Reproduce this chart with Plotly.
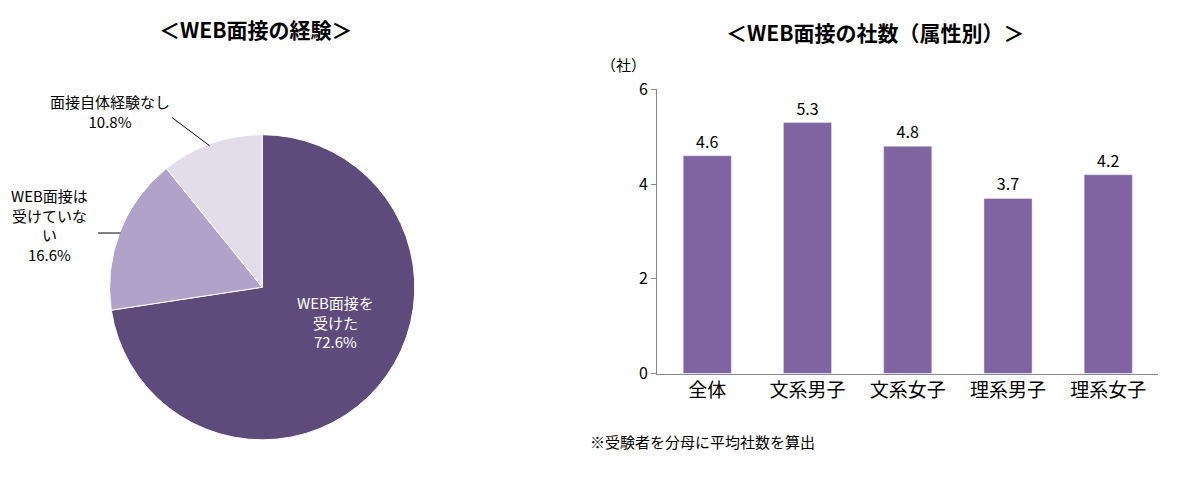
import plotly.graph_objects as go

pie_labels = ["WEB面接を受けた", "WEB面接は受けていない", "面接自体経験なし"]
pie_values = [72.6, 16.6, 10.8]
pie_colors = ["#5F4B7B", "#B0A2C8", "#E3DDEA"]

bar_cats = ["全体", "文系男子", "文系女子", "理系男子", "理系女子"]
bar_values = [4.6, 5.3, 4.8, 3.7, 4.2]
y_ticks = [0, 2, 4, 6]

FONT = "Noto Sans CJK JP"
W, H = 1177, 487
# compensate for observed render scaling/offset
def px(x): return ((x - 14) / 0.9875) / W
def py(y): return 1 - ((y - 21.8) / 0.947) / H

fig = go.Figure()
fig.add_trace(go.Pie(labels=pie_labels, values=pie_values, sort=False, direction="clockwise",
                     rotation=0, marker=dict(colors=pie_colors, line=dict(color="white", width=1)),
                     textinfo="none", hoverinfo="label+percent", showlegend=False,
                     domain=dict(x=[px(100), px(430)], y=[py(439), py(135)])))
fig.add_trace(go.Bar(x=bar_cats, y=bar_values, marker_color="#8064A2", width=0.48,
                     text=[f"{v:.1f}" for v in bar_values], textposition="outside",
                     textfont=dict(size=16, color="#000"), cliponaxis=False, showlegend=False))

fig.update_layout(
    width=W, height=H, margin=dict(l=0, r=0, t=0, b=0),
    paper_bgcolor="white", plot_bgcolor="white",
    font=dict(family=FONT, color="#000"),
    xaxis=dict(domain=[px(655), px(1150)], showline=True, linecolor="#888", ticks="",
               tickfont=dict(size=19)),
    yaxis=dict(domain=[py(373), py(90)], range=[0, 6], tickvals=y_ticks, showgrid=False,
               showline=True, linecolor="#888", ticks="outside", ticklen=5, tickcolor="#888",
               tickfont=dict(size=16), zeroline=False),
)

ann = [
    dict(x=258, y=30, text="<b>＜WEB面接の経験＞</b>", size=21),
    dict(x=870, y=33, text="<b>＜WEB面接の社数（属性別）＞</b>", size=21),
    dict(x=622, y=65, text="（社）", size=15),
    dict(x=700, y=441, text="※受験者を分母に平均社数を算出", size=15),
    dict(x=337, y=322, text="WEB面接を<br>受けた<br>72.6%", size=15, color="white"),
    dict(x=115, y=112, text="面接自体経験なし<br>10.8%", size=15),
    dict(x=55, y=225, text="WEB面接は<br>受けていな<br>い<br>16.6%", size=15),
]
for a in ann:
    fig.add_annotation(x=px(a["x"]), y=py(a["y"]), xref="paper", yref="paper", text=a["text"],
                       showarrow=False, font=dict(size=a["size"], color=a.get("color", "#000"), family=FONT),
                       align="center", xanchor="center", yanchor="middle")

fig.add_shape(type="line", xref="paper", yref="paper", x0=px(176), y0=py(118), x1=px(213), y1=py(146),
              line=dict(color="#000", width=1))
fig.add_shape(type="line", xref="paper", yref="paper", x0=px(103), y0=py(233), x1=px(125), y1=py(233),
              line=dict(color="#000", width=1))

fig.write_html("out.html")
